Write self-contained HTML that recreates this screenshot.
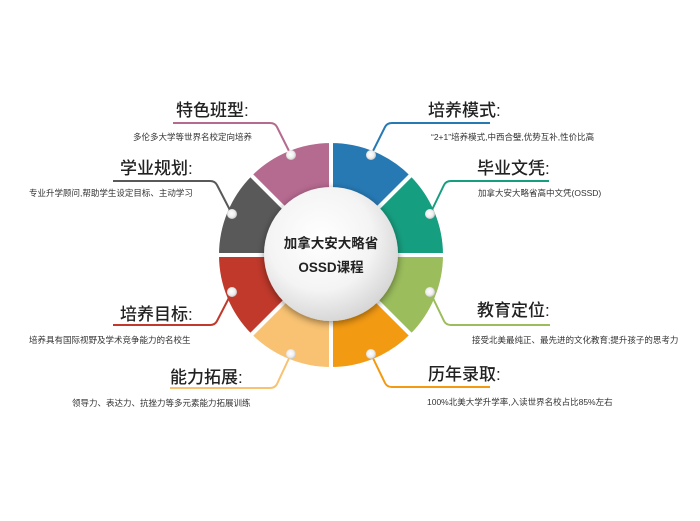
<!DOCTYPE html>
<html><head><meta charset="utf-8"><style>
html,body{margin:0;padding:0;background:#fff;}
svg{display:block;}
text{font-family:"Liberation Sans","Noto Sans CJK SC",sans-serif;fill:#222;}
.t{font-size:17px;font-weight:500;}
.d{font-size:8.5px;fill:#333;}
</style></head><body>
<svg width="700" height="521" viewBox="0 0 700 521" xmlns="http://www.w3.org/2000/svg">
<defs>
<radialGradient id="cg" cx="0.42" cy="0.38" r="0.65">
<stop offset="0" stop-color="#ffffff"/><stop offset="0.6" stop-color="#f4f4f4"/><stop offset="1" stop-color="#d4d4d4"/>
</radialGradient>
<filter id="sh" x="-30%" y="-30%" width="160%" height="160%"><feGaussianBlur in="SourceAlpha" stdDeviation="4"/><feOffset dx="0" dy="2"/><feComponentTransfer><feFuncA type="linear" slope="0.45"/></feComponentTransfer><feMerge><feMergeNode/><feMergeNode in="SourceGraphic"/></feMerge></filter>
<radialGradient id="dg" cx="0.45" cy="0.45" r="0.6"><stop offset="0" stop-color="#fff"/><stop offset="0.6" stop-color="#eee"/><stop offset="1" stop-color="#bbb"/></radialGradient>
</defs>
<g stroke="#fff" stroke-width="4" stroke-linejoin="miter">
<path d="M331 195 L331 141 A114 114 0 0 1 411.6 174.4 L373.4 212.6 A60 60 0 0 0 331 195Z" fill="#2779b4"/>
<path d="M373.4 212.6 L411.6 174.4 A114 114 0 0 1 445 255 L391 255 A60 60 0 0 0 373.4 212.6Z" fill="#169e80"/>
<path d="M391 255 L445 255 A114 114 0 0 1 411.6 335.6 L373.4 297.4 A60 60 0 0 0 391 255Z" fill="#9bbd5c"/>
<path d="M373.4 297.4 L411.6 335.6 A114 114 0 0 1 331 369 L331 315 A60 60 0 0 0 373.4 297.4Z" fill="#f39a13"/>
<path d="M331 315 L331 369 A114 114 0 0 1 250.4 335.6 L288.6 297.4 A60 60 0 0 0 331 315Z" fill="#f8c272"/>
<path d="M288.6 297.4 L250.4 335.6 A114 114 0 0 1 217 255 L271 255 A60 60 0 0 0 288.6 297.4Z" fill="#c0392b"/>
<path d="M271 255 L217 255 A114 114 0 0 1 250.4 174.4 L288.6 212.6 A60 60 0 0 0 271 255Z" fill="#595959"/>
<path d="M288.6 212.6 L250.4 174.4 A114 114 0 0 1 331 141 L331 195 A60 60 0 0 0 288.6 212.6Z" fill="#b56a8f"/>
</g>
<circle cx="331" cy="254" r="67" fill="url(#cg)" filter="url(#sh)"/>
<text x="331" y="248" text-anchor="middle" style="font-size:13.5px;font-weight:bold;">加拿大安大略省</text>
<text x="331" y="272" text-anchor="middle" style="font-size:13.5px;font-weight:bold;">OSSD课程</text>
<g fill="none" stroke-width="2">
<path d="M291 155 L277 127 Q275 123 270 123 L173 123" stroke="#b56a8f"/>
<path d="M232 214 L217 185 Q215 181 210 181 L113 181" stroke="#595959"/>
<path d="M232 292 L217 321 Q215 325 210 325 L113 325" stroke="#c0392b"/>
<path d="M291 354 L277 384 Q275 388 270 388 L170 388" stroke="#f8c272"/>
<path d="M371 155 L385 127 Q387 123 392 123 L490 123" stroke="#2779b4"/>
<path d="M430 214 L444 185 Q446 181 451 181 L549 181" stroke="#169e80"/>
<path d="M430 292 L444 321 Q446 325 451 325 L550 325" stroke="#9bbd5c"/>
<path d="M371 354 L385 383 Q387 387 392 387 L490 387" stroke="#f39a13"/>
</g>
<g fill="url(#dg)">
<circle cx="291" cy="155" r="5"/><circle cx="232" cy="214" r="5"/><circle cx="232" cy="292" r="5"/><circle cx="291" cy="354" r="5"/>
<circle cx="371" cy="155" r="5"/><circle cx="430" cy="214" r="5"/><circle cx="430" cy="292" r="5"/><circle cx="371" cy="354" r="5"/>
</g>
<text class="t" x="176" y="116">特色班型:</text>
<text class="d" x="133" y="140">多伦多大学等世界名校定向培养</text>
<text class="t" x="120" y="174">学业规划:</text>
<text class="d" x="29" y="196">专业升学顾问,帮助学生设定目标、主动学习</text>
<text class="t" x="120" y="320">培养目标:</text>
<text class="d" x="29" y="343">培养具有国际视野及学术竞争能力的名校生</text>
<text class="t" x="170" y="383">能力拓展:</text>
<text class="d" x="72" y="406">领导力、表达力、抗挫力等多元素能力拓展训练</text>
<text class="t" x="428" y="116">培养模式:</text>
<text class="d" x="431" y="140">“2+1”培养模式,中西合璧,优势互补,性价比高</text>
<text class="t" x="477" y="174">毕业文凭:</text>
<text class="d" x="478" y="196">加拿大安大略省高中文凭(OSSD)</text>
<text class="t" x="477" y="316">教育定位:</text>
<text class="d" x="472" y="343">接受北美最纯正、最先进的文化教育;提升孩子的思考力</text>
<text class="t" x="428" y="380">历年录取:</text>
<text class="d" x="427" y="405">100%北美大学升学率,入读世界名校占比85%左右</text>
</svg>
</body></html>
